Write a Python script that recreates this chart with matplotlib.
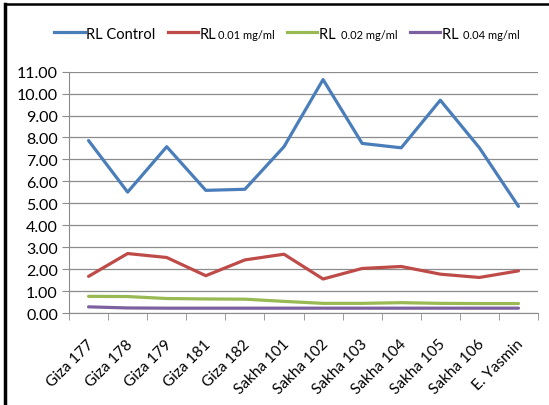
import matplotlib.pyplot as plt
import matplotlib.transforms as mtransforms
from matplotlib.lines import Line2D
from matplotlib.offsetbox import AnchoredOffsetbox, DrawingArea, HPacker, TextArea

plt.rcParams['font.family'] = ['Lato', 'DejaVu Sans']

cultivars = ['Giza 177', 'Giza 178', 'Giza 179', 'Giza 181', 'Giza 182', 'Sakha 101',
             'Sakha 102', 'Sakha 103', 'Sakha 104', 'Sakha 105', 'Sakha 106', 'E. Yasmin']
rl_control = [7.86, 5.51, 7.58, 5.59, 5.64, 7.58, 10.64, 7.73, 7.53, 9.70, 7.53, 4.86]
rl_001 = [1.67, 2.71, 2.53, 1.70, 2.42, 2.68, 1.55, 2.03, 2.12, 1.77, 1.62, 1.92]
rl_002 = [0.76, 0.75, 0.66, 0.64, 0.63, 0.53, 0.44, 0.44, 0.47, 0.44, 0.43, 0.43]
rl_004 = [0.28, 0.23, 0.22, 0.22, 0.22, 0.22, 0.22, 0.22, 0.22, 0.22, 0.22, 0.22]

# (values, main label, small concentration label, colour)
series = [
    (rl_control, 'RL Control', '', '#4A7EBB'),
    (rl_001, 'RL', '0.01 mg/ml', '#BE4B48'),
    (rl_002, 'RL ', '0.02 mg/ml', '#98B954'),
    (rl_004, 'RL ', '0.04 mg/ml', '#7D60A0'),
]

fig = plt.figure(figsize=(5.49, 4.06), dpi=100)
ax = fig.add_axes([0.1257, 0.2266, 0.8543, 0.5944])

x = list(range(len(cultivars)))
for vals, label, conc, color in series:
    ax.plot(x, vals, color=color, linewidth=2.3, solid_capstyle='round')

ax.set_xlim(-0.5, len(cultivars) - 0.5)
ax.set_ylim(0, 11)
ax.set_yticks(range(0, 12))
ax.set_yticklabels([f'{v:.2f}' for v in range(0, 12)], fontsize=11.5)
ax.set_xticks(x)
ax.set_xticklabels(cultivars, rotation=45, ha='right', rotation_mode='anchor', fontsize=11)
ax.set_xticks([i - 0.5 for i in range(len(cultivars) + 1)], minor=True)
ax.tick_params(axis='x', which='major', length=0, pad=17)
ax.tick_params(axis='x', which='minor', length=5, color='#8C8C8C')
ax.tick_params(axis='y', length=5, color='#8C8C8C', pad=3)

# nudge the slanted category labels a little to the left
shift = mtransforms.ScaledTranslation(-2 / 100, 0, fig.dpi_scale_trans)
for lbl in ax.get_xticklabels():
    lbl.set_transform(lbl.get_transform() + shift)

ax.grid(axis='y', color='#8C8C8C', linewidth=0.9)
ax.set_axisbelow(True)
for side in ['top', 'right']:
    ax.spines[side].set_visible(False)
for side in ['left', 'bottom']:
    ax.spines[side].set_color('#8C8C8C')

# legend with the concentration written in a smaller font
entries = []
for vals, label, conc, color in series:
    da = DrawingArea(22, 8)
    da.add_artist(Line2D([0, 22], [4, 4], color=color, linewidth=2.3))
    parts = [da, TextArea(label, textprops=dict(fontsize=10.5))]
    if conc:
        parts.append(TextArea(conc, textprops=dict(fontsize=8)))
    entries.append(HPacker(children=parts, align='baseline', pad=0, sep=1))
legend_box = HPacker(children=entries, align='baseline', pad=0, sep=9)
fig.add_artist(AnchoredOffsetbox(loc='center', child=legend_box, frameon=False, pad=0,
                                 bbox_to_anchor=(0.523, 0.914),
                                 bbox_transform=fig.transFigure))

# black frame along the top and left edge
fig.add_artist(Line2D([0.009, 1], [0.988, 0.988], color='black', linewidth=1.8,
                      transform=fig.transFigure))
fig.add_artist(Line2D([0.009, 0.009], [0, 0.988], color='black', linewidth=2.5,
                      transform=fig.transFigure))

fig.savefig('out.png', dpi=100)
